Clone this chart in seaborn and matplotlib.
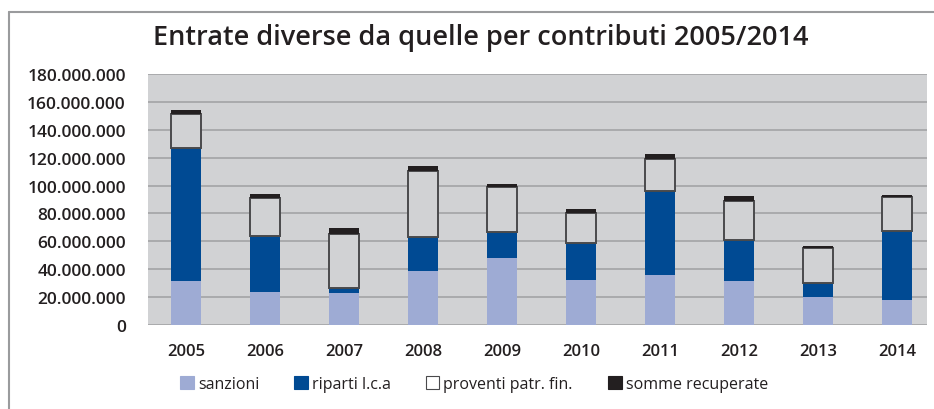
import numpy as np
import matplotlib
matplotlib.use("Agg")
import matplotlib.pyplot as plt
import matplotlib.patches as mpatches
import seaborn as sns
from matplotlib.ticker import FuncFormatter

# Dati (euro, valori)
anni = ["2005", "2006", "2007", "2008", "2009", "2010", "2011", "2012", "2013", "2014"]
sanzioni = [31.4, 23.7, 23.2, 38.5, 47.9, 32.1, 35.7, 31.4, 20.1, 18.0]
riparti_lca = [95.4, 40.2, 3.6, 24.9, 18.6, 26.8, 60.3, 29.2, 10.3, 49.3]
proventi_patr_fin = [24.2, 27.3, 38.3, 46.7, 32.4, 21.3, 23.4, 28.4, 24.9, 24.6]
somme_recuperate = [3.1, 3.1, 4.5, 3.8, 2.1, 2.9, 3.1, 3.4, 1.0, 1.0]

serie = [
    ("sanzioni", sanzioni, "#9eabd4", "none"),
    ("riparti l.c.a", riparti_lca, "#004a93", "none"),
    ("proventi patr. fin.", proventi_patr_fin, "#d1d2d4", "#4a4a4c"),
    ("somme recuperate", somme_recuperate, "#231f20", "none"),
]

BG = "#d1d2d4"
GRID = "#a6a7a9"
TXT = "#231f20"

sns.set_theme(style="white")
plt.rcParams["font.family"] = ["Open Sans", "DejaVu Sans"]

fig = plt.figure(figsize=(9.34, 4.10), dpi=100)
ax = fig.add_axes([148 / 934, 84 / 410, 779 / 934, 251 / 410])
ax.set_facecolor(BG)

bottom = np.zeros(len(anni))
for nome, valori, colore, bordo in serie:
    v = np.array(valori) * 1e6
    sns.barplot(x=anni, y=v, bottom=bottom, color=colore, width=0.37,
                edgecolor=bordo, linewidth=1.4 if bordo != "none" else 0,
                saturation=1, ax=ax, zorder=3)
    bottom = bottom + v

ax.set_ylim(0, 180e6)
ax.set_xlim(-0.48, 9.38)
ax.set_yticks(np.arange(0, 180e6 + 1, 20e6))
ax.yaxis.set_major_formatter(FuncFormatter(lambda y, p: f"{int(y):,}".replace(",", ".")))
ax.grid(axis="y", color=GRID, linewidth=1.3, zorder=0)
ax.set_axisbelow(True)
for s in ax.spines.values():
    s.set_visible(False)
ax.tick_params(axis="both", length=0, labelsize=12.5, labelcolor=TXT)
ax.tick_params(axis="x", labelsize=12)
ax.tick_params(axis="y", pad=16)
ax.tick_params(axis="x", pad=13)
for lab in ax.get_yticklabels() + ax.get_xticklabels():
    lab.set_fontweight("semibold")
ax.set_xlabel("")
ax.set_ylabel("")

# titolo
fig.text(481 / 934, 1 - 38 / 410, "Entrate diverse da quelle per contributi 2005/2014",
         ha="center", va="center", fontsize=19.5, fontweight="semibold", color=TXT)

# legenda
handles = [mpatches.Patch(facecolor=("white" if b != "none" else c),
                          edgecolor=(b if b != "none" else c), linewidth=0.8, label=n)
           for n, _, c, b in serie]
fig.legend(handles=handles, loc="center", bbox_to_anchor=(474 / 934, 1 - 385 / 410),
           ncol=4, frameon=False, fontsize=11.5, handlelength=0.85, handleheight=0.85,
           handletextpad=0.25, columnspacing=2.2, labelcolor=TXT)

# cornice esterna
fig.add_artist(plt.Line2D([9 / 934, 9 / 934], [0, 1 - 13 / 410], transform=fig.transFigure,
                          color="#9a9b9d", linewidth=1.5))
fig.add_artist(plt.Line2D([9 / 934, 1], [1 - 13 / 410, 1 - 13 / 410], transform=fig.transFigure,
                          color="#9a9b9d", linewidth=1.5))

fig.savefig("out.png", dpi=100)
